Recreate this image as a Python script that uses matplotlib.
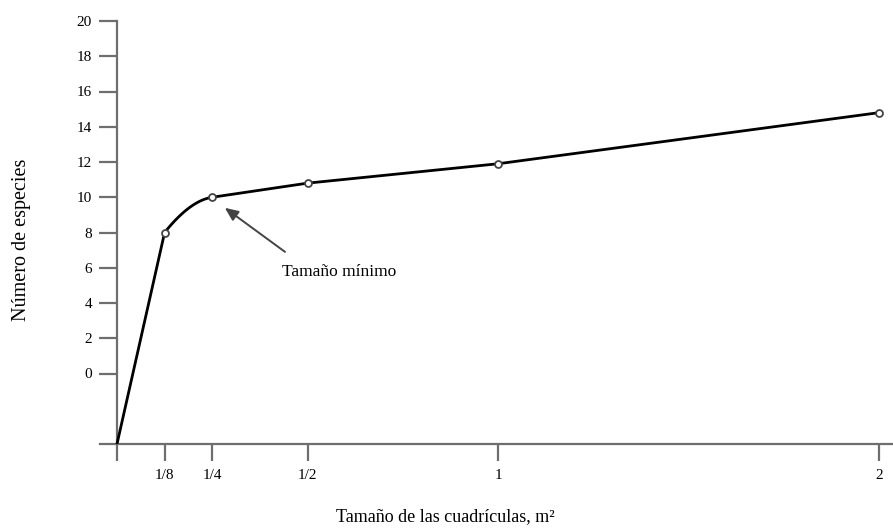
import matplotlib

matplotlib.use("Agg")

import matplotlib.pyplot as plt  # noqa: E402
import numpy as np  # noqa: E402

# Datos (tamaño de cuadrícula en m², número de especies)
tamanos = [0.0, 1 / 8, 1 / 4, 1 / 2, 1.0, 2.0]
especies = [-4.0, 8.0, 10.0, 10.8, 11.9, 14.8]
etiquetas_x = ["", "1/8", "1/4", "1/2", "1", "2"]
ticks_y = list(range(0, 21, 2))

plt.rcParams["font.family"] = ["Liberation Serif", "DejaVu Serif"]

gris = "#6e6e6e"

fig = plt.figure(figsize=(8.93, 5.29), dpi=100)
ax = fig.add_axes([100 / 893, 85 / 529, 793 / 893, 423 / 529])

x = np.array(tamanos)
y = np.array(especies)

# Tramo recto desde el origen hasta 1/8
ax.plot(x[:2], y[:2], color="black", lw=2, solid_capstyle="round", zorder=3)

# Tramo curvo 1/8 -> 1/4 (Bézier cuadrática con tangentes en los extremos)
pend_ini = 27.0
pend_fin = (y[3] - y[2]) / (x[3] - x[2])
cx = (y[2] - y[1] + pend_ini * x[1] - pend_fin * x[2]) / (pend_ini - pend_fin)
cy = y[1] + pend_ini * (cx - x[1])
t = np.linspace(0, 1, 60)
bx = (1 - t) ** 2 * x[1] + 2 * (1 - t) * t * cx + t**2 * x[2]
by = (1 - t) ** 2 * y[1] + 2 * (1 - t) * t * cy + t**2 * y[2]
ax.plot(bx, by, color="black", lw=2, zorder=3)

# Tramos rectos desde 1/4 hasta 2
ax.plot(x[2:], y[2:], color="black", lw=2, zorder=3, clip_on=False)

# Puntos abiertos
ax.plot(x[1:], y[1:], "o", ms=5, mfc="white", mec="#444444", mew=1.3,
        zorder=4, clip_on=False)

# Anotación del tamaño mínimo
ax.annotate("", xy=(0.283, 9.4), xytext=(0.441, 6.9),
            arrowprops=dict(arrowstyle="-|>,head_length=0.8,head_width=0.35",
                            color="#444444", lw=1.4, shrinkA=0, shrinkB=0))
ax.text(0.433, 5.75, "Tamaño mínimo", fontsize=12.5, ha="left", va="center")

# Ejes
ax.set_xlim(-17 / 381, 776 / 381)
ax.set_ylim(-4, 20)
for lado in ("top", "right"):
    ax.spines[lado].set_visible(False)
ax.spines["left"].set_position(("data", 0))
ax.spines["left"].set_bounds(-4, 20)
for lado in ("left", "bottom"):
    ax.spines[lado].set_color(gris)
    ax.spines[lado].set_linewidth(1.6)

ax.set_yticks(ticks_y)
ax.set_yticklabels([str(v) for v in ticks_y])
ax.set_xticks(tamanos)
ax.set_xticklabels(etiquetas_x)
ax.tick_params(axis="y", direction="out", length=13, width=1.6, color=gris,
               labelsize=11, pad=5)
ax.tick_params(axis="x", direction="out", length=12, width=1.6, color=gris,
               labelsize=11, pad=6)

fig.text(22 / 893, 1 - 240 / 529, "Número de especies", rotation=90,
         fontsize=14.5, ha="center", va="center")
fig.text(445 / 893, 1 - 517 / 529, "Tamaño de las cuadrículas, m²",
         fontsize=13, ha="center", va="center")

fig.savefig("out.png", dpi=100)
plt.close(fig)
